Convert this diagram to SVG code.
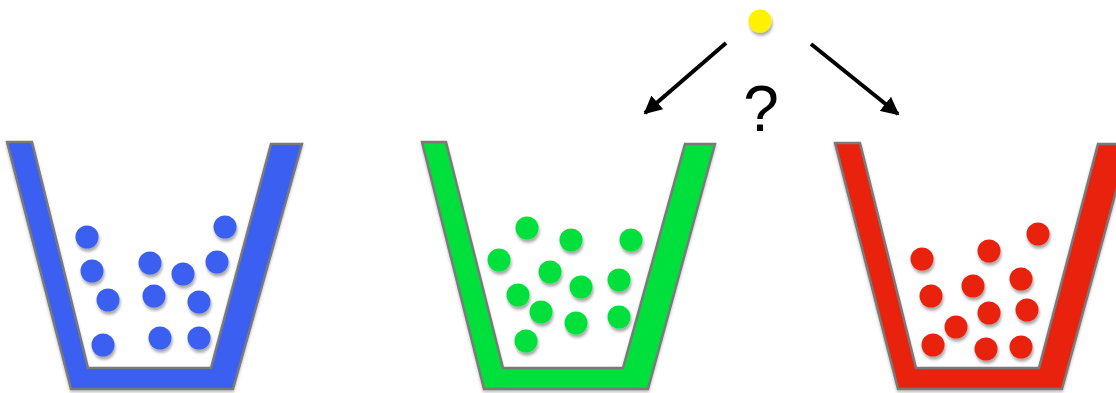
<svg xmlns="http://www.w3.org/2000/svg" width="1116" height="393" viewBox="0 0 1116 393">
<defs>
<filter id="sh" x="-50%" y="-50%" width="200%" height="200%"><feDropShadow dx="1" dy="3" stdDeviation="1.5" flood-color="#000" flood-opacity="0.35"/></filter>
<filter id="bsh" x="-10%" y="-10%" width="120%" height="120%"><feDropShadow dx="0" dy="2" stdDeviation="1.5" flood-color="#000" flood-opacity="0.25"/></filter>
<marker id="ah" viewBox="0 0 10 10" refX="9" refY="5" markerWidth="4.5" markerHeight="4.5" orient="auto" markerUnits="strokeWidth"><path d="M0,0 L10,5 L0,10 z" fill="#000"/></marker>
</defs>
<style>
.bucket{stroke:#7a7a7a;stroke-width:2.5;stroke-linejoin:miter;filter:url(#bsh)}
.blue{fill:#3a5ef0}
.green{fill:#00e03c}
.red{fill:#e8230f}
.ball{filter:url(#sh)}
.arrow{stroke:#000;stroke-width:4;fill:none}
</style>
<rect width="1116" height="393" fill="#fff"/>
<g id="bucket-blue">
<polygon class="bucket blue" points="7,142 32,142 88,368 211,368 271,144 302,144 233,389 71,389"/>
<g class="ball blue">
<circle cx="87" cy="237" r="11.5"/><circle cx="92" cy="271" r="11.5"/><circle cx="108" cy="300" r="11.5"/><circle cx="103" cy="345" r="11.5"/>
<circle cx="150" cy="263" r="11.5"/><circle cx="183" cy="274" r="11.5"/><circle cx="217" cy="262" r="11.5"/><circle cx="225" cy="227" r="11.5"/>
<circle cx="154" cy="296" r="11.5"/><circle cx="199" cy="302" r="11.5"/><circle cx="160" cy="338" r="11.5"/><circle cx="199" cy="338" r="11.5"/>
</g>
</g>
<g id="bucket-green">
<polygon class="bucket green" points="422,142 446,142 503,368 623,368 685,144 715,144 648,389 484,389"/>
<g class="ball green">
<circle cx="527" cy="228" r="11.5"/><circle cx="571" cy="240" r="11.5"/><circle cx="631" cy="240" r="11.5"/><circle cx="499" cy="260" r="11.5"/>
<circle cx="550" cy="272" r="11.5"/><circle cx="581" cy="287" r="11.5"/><circle cx="619" cy="280" r="11.5"/><circle cx="518" cy="295" r="11.5"/>
<circle cx="541" cy="312" r="11.5"/><circle cx="576" cy="323" r="11.5"/><circle cx="619" cy="317" r="11.5"/><circle cx="526" cy="341" r="11.5"/>
</g>
</g>
<g id="bucket-red">
<polygon class="bucket red" points="835,143 860,143 916,368 1039,368 1098,144 1129,144 1062,389 898,389"/>
<g class="ball red">
<circle cx="922" cy="259" r="11.5"/><circle cx="989" cy="251" r="11.5"/><circle cx="1038" cy="234" r="11.5"/><circle cx="973" cy="286" r="11.5"/>
<circle cx="1021" cy="279" r="11.5"/><circle cx="931" cy="296" r="11.5"/><circle cx="989" cy="313" r="11.5"/><circle cx="1027" cy="310" r="11.5"/>
<circle cx="956" cy="327" r="11.5"/><circle cx="933" cy="345" r="11.5"/><circle cx="986" cy="349" r="11.5"/><circle cx="1021" cy="347" r="11.5"/>
</g>
</g>
<g id="yellow-ball">
<circle class="ball" cx="760" cy="21" r="11.5" fill="#fff200"/>
</g>
<g id="connectors">
<line class="arrow" x1="726" y1="43" x2="645" y2="113" marker-end="url(#ah)"/>
<line class="arrow" x1="811" y1="44" x2="898" y2="114" marker-end="url(#ah)"/>
</g>
<g id="label">
<text x="761" y="131" font-family="Liberation Sans, Arial, sans-serif" font-size="64" text-anchor="middle" fill="#000">?</text>
</g>
</svg>
